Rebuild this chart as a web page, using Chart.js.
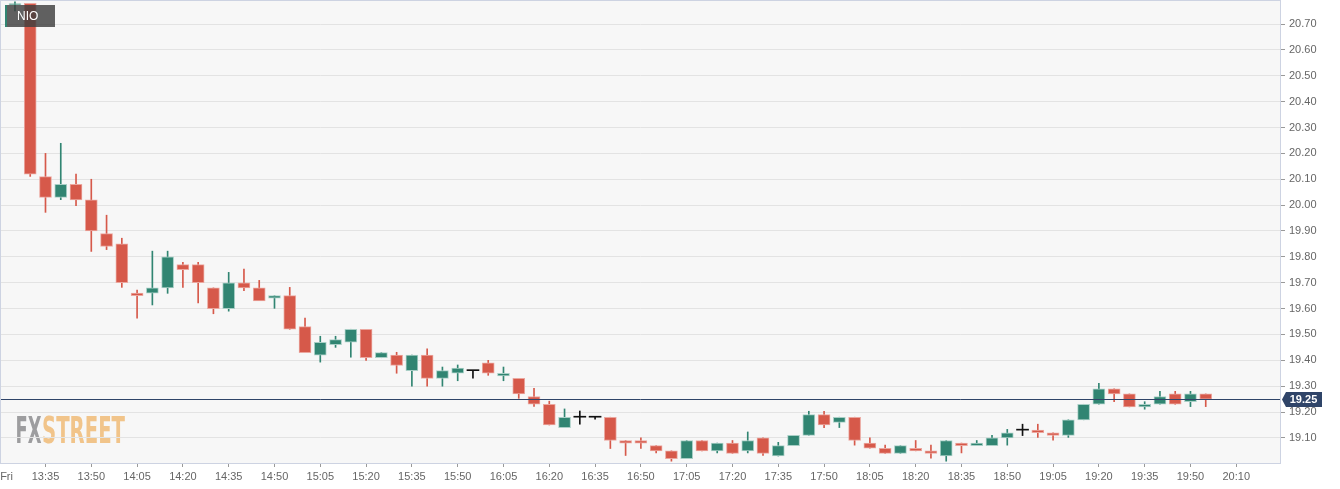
<!DOCTYPE html>
<html>
<head>
<meta charset="utf-8">
<script src="https://cdn.jsdelivr.net/npm/chart.js@4/dist/chart.umd.min.js"></script>
<style>
    html, body { margin: 0; padding: 0; background: #fff; }
    #wrap { width: 1340px; height: 489px; position: relative; }
</style>
</head>
<body>
<div id="wrap"><canvas id="nioChart"></canvas></div>
<script>
// 5-minute candles, 13:25 .. 19:55
const opens  = [20.775, 20.78, 20.11, 20.03, 20.08, 20.02, 19.89, 19.85, 19.66, 19.66,
                19.68, 19.77, 19.77, 19.68, 19.60, 19.70, 19.68, 19.64, 19.65, 19.53,
                19.42, 19.46, 19.47, 19.52, 19.41, 19.42, 19.36, 19.42, 19.33, 19.35,
                19.36, 19.39, 19.34, 19.33, 19.26, 19.23, 19.14, 19.18, 19.18, 19.18,
                19.09, 19.09, 19.07, 19.05, 19.02, 19.09, 19.05, 19.08, 19.05, 19.10,
                19.03, 19.07, 19.11, 19.19, 19.16, 19.18, 19.08, 19.06, 19.04, 19.06,
                19.05, 19.03, 19.08, 19.07, 19.07, 19.10, 19.13, 19.13, 19.12, 19.11,
                19.17, 19.23, 19.29, 19.27, 19.22, 19.23, 19.27, 19.24, 19.27];
const highs  = [20.786, 20.78, 20.20, 20.239, 20.12, 20.10, 19.961, 19.872, 19.672, 19.822,
                19.822, 19.779, 19.779, 19.68, 19.74, 19.753, 19.709, 19.65, 19.682, 19.563,
                19.493, 19.493, 19.52, 19.52, 19.43, 19.431, 19.42, 19.444, 19.374, 19.382,
                19.36, 19.40, 19.374, 19.33, 19.292, 19.242, 19.212, 19.204, 19.18, 19.18,
                19.09, 19.10, 19.07, 19.05, 19.09, 19.09, 19.08, 19.09, 19.123, 19.10,
                19.083, 19.11, 19.203, 19.203, 19.18, 19.18, 19.10, 19.072, 19.07, 19.09,
                19.072, 19.09, 19.08, 19.09, 19.11, 19.133, 19.153, 19.153, 19.12, 19.17,
                19.23, 19.311, 19.29, 19.27, 19.24, 19.28, 19.28, 19.28, 19.27];
const lows   = [20.751, 20.111, 19.972, 20.021, 19.998, 19.821, 19.828, 19.682, 19.563, 19.614,
                19.659, 19.682, 19.622, 19.58, 19.59, 19.669, 19.632, 19.601, 19.52, 19.43,
                19.393, 19.45, 19.412, 19.40, 19.41, 19.35, 19.30, 19.30, 19.30, 19.321,
                19.331, 19.342, 19.321, 19.253, 19.222, 19.15, 19.14, 19.153, 19.172, 19.059,
                19.032, 19.059, 19.042, 19.01, 19.02, 19.05, 19.042, 19.04, 19.042, 19.032,
                19.03, 19.07, 19.11, 19.14, 19.14, 19.072, 19.06, 19.04, 19.04, 19.05,
                19.022, 19.01, 19.042, 19.07, 19.07, 19.072, 19.109, 19.102, 19.091, 19.102,
                19.17, 19.23, 19.24, 19.22, 19.211, 19.23, 19.23, 19.221, 19.221];
const closes = [20.778, 20.12, 20.03, 20.08, 20.02, 19.90, 19.84, 19.70, 19.65, 19.68,
                19.80, 19.75, 19.70, 19.60, 19.70, 19.68, 19.63, 19.65, 19.52, 19.43,
                19.47, 19.48, 19.52, 19.41, 19.43, 19.38, 19.42, 19.33, 19.36, 19.37,
                19.36, 19.35, 19.35, 19.27, 19.23, 19.15, 19.18, 19.18, 19.18, 19.09,
                19.08, 19.08, 19.05, 19.02, 19.09, 19.05, 19.08, 19.04, 19.09, 19.04,
                19.07, 19.11, 19.19, 19.15, 19.18, 19.09, 19.06, 19.04, 19.07, 19.05,
                19.04, 19.09, 19.07, 19.08, 19.10, 19.12, 19.13, 19.12, 19.11, 19.17,
                19.23, 19.29, 19.27, 19.22, 19.23, 19.26, 19.23, 19.27, 19.25];

const xTickPos = [-0.55, 2, 5, 8, 11, 14, 17, 20, 23, 26, 29, 32, 35, 38, 41, 44, 47, 50, 53,
                  56, 59, 62, 65, 68, 71, 74, 77, 80];
const xTickLabels = ['Fri', '13:35', '13:50', '14:05', '14:20', '14:35', '14:50', '15:05', '15:20',
                     '15:35', '15:50', '16:05', '16:20', '16:35', '16:50', '17:05', '17:20', '17:35',
                     '17:50', '18:05', '18:20', '18:35', '18:50', '19:05', '19:20', '19:35', '19:50', '20:10'];
const yTickValues = [19.1, 19.2, 19.3, 19.4, 19.5, 19.6, 19.7, 19.8, 19.9, 20.0,
                     20.1, 20.2, 20.3, 20.4, 20.5, 20.6, 20.7];
const lastPrice = 19.25;
const symbol = 'NIO';

const UP = '#318572', DOWN = '#d6594a', FLAT = '#111111';
const UP_EDGE = '#a9cfc6', DOWN_EDGE = '#eba79f';
const NAVY = '#2f4468';
const FONT = "'Liberation Sans', Arial, sans-serif";

function candleColor(i) {
    if (closes[i] > opens[i]) return UP;
    if (closes[i] < opens[i]) return DOWN;
    return FLAT;
}
function edgeColor(i) {
    if (closes[i] > opens[i]) return UP_EDGE;
    if (closes[i] < opens[i]) return DOWN_EDGE;
    return FLAT;
}

const wickData = lows.map((l, i) => ({ x: i, y: [l, highs[i]] }));
const bodyData = opens.map((o, i) => ({ x: i, y: [o, closes[i]] }));

// background, border, symbol tag, logo and last price marker
const decor = {
    id: 'decor',
    beforeDraw(chart) {
        const { ctx, chartArea: a } = chart;
        ctx.save();
        ctx.fillStyle = '#ffffff';
        ctx.fillRect(0, 0, chart.width, chart.height);
        ctx.fillStyle = '#f7f7f7';
        ctx.fillRect(a.left, a.top, a.right - a.left, a.bottom - a.top);

        // FXSTREET watermark
        ctx.textBaseline = 'alphabetic';
        ctx.font = "bold 37px 'DejaVu Sans Condensed', 'DejaVu Sans', sans-serif";
        const drawSquashed = (txt, x, w, color) => {
            const m = ctx.measureText(txt).width;
            ctx.save();
            ctx.translate(x, 443);
            ctx.scale(w / m, 1);
            ctx.fillStyle = color;
            ctx.fillText(txt, 0, 0);
            ctx.restore();
        };
        drawSquashed('FX', 15.5, 26, '#9d9d9f');
        drawSquashed('STREET', 42, 83, '#f1c48a');
        ctx.restore();
    },
    afterDatasetsDraw(chart) {
        const { ctx, chartArea: a, scales } = chart;
        const y = Math.round(scales.y.getPixelForValue(lastPrice)) + 0.5;
        ctx.save();
        ctx.strokeStyle = NAVY;
        ctx.lineWidth = 1;
        ctx.beginPath();
        ctx.moveTo(a.left, y);
        ctx.lineTo(a.right, y);
        ctx.stroke();
        ctx.restore();
    },
    afterDraw(chart) {
        const { ctx, chartArea: a, scales } = chart;
        ctx.save();
        // plot border
        ctx.strokeStyle = '#cdd3e2';
        ctx.lineWidth = 1;
        ctx.strokeRect(a.left + 0.5, a.top + 0.5, a.right - a.left - 1, a.bottom - a.top);

        // symbol tag
        ctx.fillStyle = 'rgba(62, 62, 62, 0.82)';
        ctx.fillRect(5, 5, 50, 22);
        ctx.fillStyle = UP;
        ctx.fillRect(5, 5, 2, 22);
        ctx.fillStyle = '#ffffff';
        ctx.font = '12px ' + FONT;
        ctx.textBaseline = 'middle';
        ctx.textAlign = 'left';
        ctx.fillText(symbol, 17, 17);

        // last price label
        const y = Math.round(scales.y.getPixelForValue(lastPrice)) + 0.5;
        ctx.fillStyle = NAVY;
        ctx.beginPath();
        ctx.moveTo(1282, y);
        ctx.lineTo(1286, y - 7.5);
        ctx.lineTo(1322, y - 7.5);
        ctx.lineTo(1322, y + 7.5);
        ctx.lineTo(1286, y + 7.5);
        ctx.closePath();
        ctx.fill();
        ctx.fillStyle = '#ffffff';
        ctx.font = 'bold 11px ' + FONT;
        ctx.textAlign = 'center';
        ctx.fillText(lastPrice.toFixed(2), 1303.5, y + 0.5);
        ctx.restore();
    }
};

new Chart(document.getElementById('nioChart').getContext('2d'), {
    type: 'bar',
    data: {
        datasets: [
            {
                label: 'wick',
                data: wickData,
                order: 2,
                grouped: false,
                barThickness: 1,
                backgroundColor: ctx => candleColor(ctx.dataIndex),
                borderWidth: 0
            },
            {
                label: 'body',
                data: bodyData,
                order: 1,
                grouped: false,
                barThickness: 12,
                minBarLength: 1,
                backgroundColor: ctx => candleColor(ctx.dataIndex),
                borderColor: ctx => edgeColor(ctx.dataIndex),
                borderWidth: ctx => (closes[ctx.dataIndex] === opens[ctx.dataIndex] ? 0 : 1),
                borderSkipped: false
            }
        ]
    },
    options: {
        responsive: true,
        maintainAspectRatio: false,
        animation: false,
        layout: { padding: 0 },
        plugins: {
            legend: { display: false },
            tooltip: { enabled: false },
            title: { display: false }
        },
        scales: {
            x: {
                type: 'linear',
                min: -0.98,
                max: 82.93,
                offset: false,
                afterBuildTicks: scale => {
                    scale.ticks = xTickPos.map(v => ({ value: v }));
                },
                afterFit: scale => {
                    scale.height = 26;
                    scale.paddingLeft = 0;
                    scale.paddingRight = 0;
                },
                grid: {
                    offset: false,
                    drawOnChartArea: false,
                    drawTicks: true,
                    tickLength: 4,
                    tickColor: ctx => (ctx.index === 0 ? 'rgba(0,0,0,0)' : '#999999')
                },
                border: { display: false },
                ticks: {
                    autoSkip: false,
                    maxRotation: 0,
                    padding: 3,
                    color: '#666666',
                    font: { family: FONT, size: 11 },
                    callback: (v, i) => xTickLabels[i]
                }
            },
            y: {
                position: 'right',
                min: 19.003,
                max: 20.793,
                afterBuildTicks: scale => {
                    scale.ticks = yTickValues.map(v => ({ value: v }));
                },
                afterFit: scale => {
                    scale.width = 59;
                    scale.paddingTop = 0;
                    scale.paddingBottom = 0;
                },
                grid: {
                    color: '#e3e3e3',
                    drawTicks: true,
                    tickLength: 4,
                    tickColor: '#999999'
                },
                border: { display: false },
                ticks: {
                    padding: 4,
                    color: '#666666',
                    font: { family: FONT, size: 11 },
                    callback: v => Number(v).toFixed(2)
                }
            }
        }
    },
    plugins: [decor]
});
</script>
</body>
</html>
